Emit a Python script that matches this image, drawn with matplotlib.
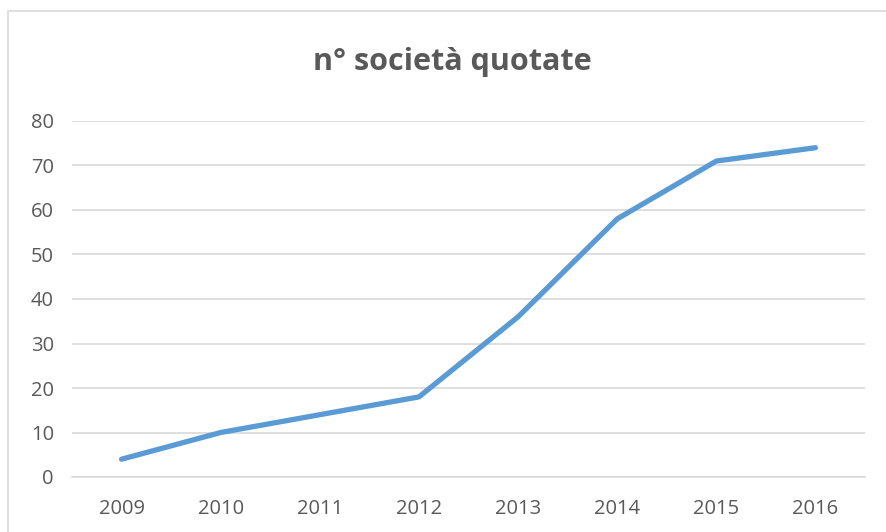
import matplotlib
matplotlib.use("Agg")
import matplotlib.pyplot as plt
from matplotlib.patches import Rectangle

years = ["2009", "2010", "2011", "2012", "2013", "2014", "2015", "2016"]
values = [4, 10, 14, 18, 36, 58, 71, 74]
yticks = [0, 10, 20, 30, 40, 50, 60, 70, 80]
title = "n° società quotate"

W, H = 886, 532
plt.rcParams['font.family'] = ['Open Sans', 'DejaVu Sans']
fig = plt.figure(figsize=(W / 100, H / 100), dpi=100)
fig.patch.set_facecolor("white")

# chart border
fig.patches.append(Rectangle((8 / W, -0.1), 1.2, (H - 11) / H + 0.1,
                             transform=fig.transFigure, fill=False,
                             edgecolor="#D9D9D9", linewidth=1.2, clip_on=False))

left, right, top, bottom = 72, 865, 121, 477
ax = fig.add_axes([left / W, (H - bottom) / H, (right - left) / W, (bottom - top) / H])
x = list(range(len(years)))
ax.plot(x, values, color="#5B9BD5", linewidth=3.8, solid_capstyle="round",
        solid_joinstyle="round", zorder=3)
ax.set_xlim(-0.5, len(years) - 0.5)
ax.set_ylim(0, 80)
ax.set_yticks(yticks)
ax.set_xticks(x)
ax.set_xticklabels(years)
ax.grid(axis="y", color="#D9D9D9", linewidth=1.2)
ax.set_axisbelow(True)
for s in ["top", "right", "left"]:
    ax.spines[s].set_visible(False)
ax.spines["bottom"].set_color("#D9D9D9")
ax.spines["bottom"].set_linewidth(1.2)
ax.tick_params(axis="both", length=0, colors="#595959", labelsize=14.5)
ax.tick_params(axis="x", pad=16)
ax.tick_params(axis="y", pad=13)

fig.text(452 / W, (H - 62) / H, title, ha="center", va="center",
         fontsize=22, fontweight="bold", color="#595959")

fig.savefig("out.png", dpi=100)
